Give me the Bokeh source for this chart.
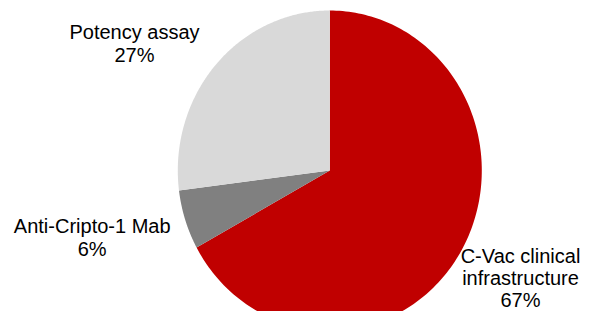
import numpy as np
from bokeh.plotting import figure
from bokeh.models import Range1d, ColumnDataSource
from bokeh.core.properties import value
from bokeh.embed import file_html
from bokeh.resources import INLINE

# ---- data ----
categories = ["C-Vac clinical infrastructure", "Anti-Cripto-1 Mab", "Potency assay"]
shares = [67, 6, 27]
colors = ["#C00000", "#808080", "#D9D9D9"]
label_lines = [["C-Vac clinical", "infrastructure", "67%"],
               ["Anti-Cripto-1 Mab", "6%"],
               ["Potency assay", "27%"]]

# ---- layout (screen geometry) ----
W, H = 583, 311
cx, cy = 329.3, 170.0      # pie centre in frame pixels
rx, ry = 152.0, 160.0      # pie radii in pixels (slightly elliptical as in original)
# label anchor (centre x, first-line baseline y) in frame pixels, line step
label_px = [(520.0, 255.0, 22.0), (91.7, 225.0, 23.0), (134.0, 31.7, 23.0)]

p = figure(width=W, height=H, output_backend="svg", toolbar_location=None,
           min_border=0, x_range=Range1d(-cx / rx, (W - cx) / rx),
           y_range=Range1d((cy - H) / ry, cy / ry))
p.axis.visible = False
p.grid.visible = False
p.outline_line_color = None
p.background_fill_color = "white"
p.border_fill_color = "white"

total = float(sum(shares))
start = 0.0
xs, ys = [], []
for s in shares:
    end = start + s / total * 2 * np.pi
    t = np.linspace(start, end, 200)
    xs.append([0.0] + list(np.sin(t)) + [0.0])
    ys.append([0.0] + list(np.cos(t)) + [0.0])
    start = end
p.patches(source=ColumnDataSource(dict(xs=xs, ys=ys, color=colors, name=categories)),
          xs="xs", ys="ys", fill_color="color", line_color=None)

tx, ty, tt = [], [], []
for (lx, ly, step), lines in zip(label_px, label_lines):
    for i, line in enumerate(lines):
        tx.append((lx - cx) / rx)
        ty.append((cy - (ly + i * step)) / ry)
        tt.append(line)
p.text(x=tx, y=ty, text=tt, text_align="center", text_baseline="alphabetic",
       text_font=value("Liberation Sans"), text_font_size="20px", text_color="#000000")

open("out.html", "w").write(file_html(p, INLINE))
